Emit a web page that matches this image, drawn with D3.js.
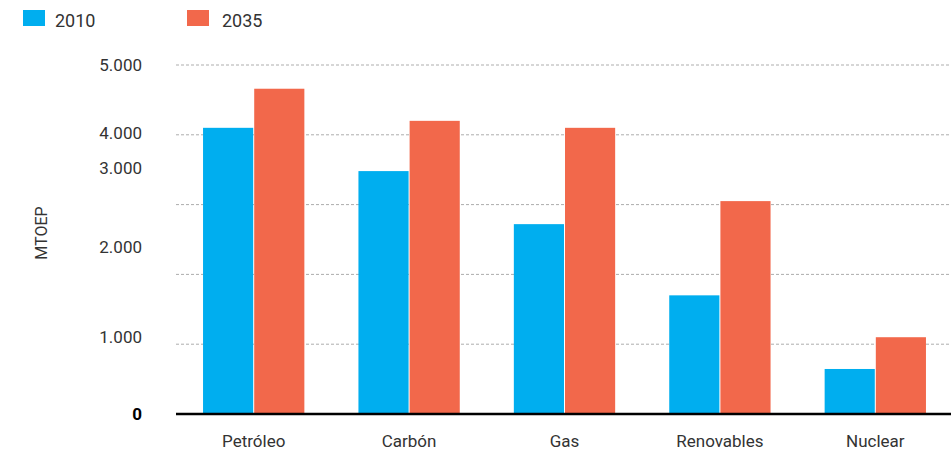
<!DOCTYPE html>
<html>
<head>
<meta charset="utf-8">
<script src="https://cdn.jsdelivr.net/npm/d3@7"></script>
<style>
  html, body { margin: 0; padding: 0; background: #fff; }
  svg { display: block; font-family: Roboto, "Noto Sans", sans-serif; }
</style>
</head>
<body>
<svg id="chart" width="951" height="453"></svg>
<script>
// Energy demand by source, 2010 vs 2035 (MTOEP)
const categories = ["Petróleo", "Carbón", "Gas", "Renovables", "Nuclear"];
const seriesNames = ["2010", "2035"];
const values2010 = [4100, 3480, 2720, 1700, 645];
const values2035 = [4660, 4200, 4100, 3050, 1100];

// Axis: gridline values, their labels, and where each label text sits
const gridValues = [1000, 2000, 3000, 4000, 5000];
const tickLabels = ["0", "1.000", "2.000", "3.000", "4.000", "5.000"];
const tickLabelAt = [0, 1100, 2390, 3520, 4030, 5000];
const yTitle = "MTOEP";

const colors = { "2010": "#00aeef", "2035": "#f2684b" };

const svg = d3.select("#chart");
const plot = { left: 176, right: 951, top: 65, bottom: 414 };

const x0 = d3.scaleBand()
  .domain(categories)
  .range([plot.left, plot.right + 2])
  .paddingInner(0.348)
  .paddingOuter(0.174);

const x1 = d3.scaleBand()
  .domain(seriesNames)
  .range([0, x0.bandwidth()])
  .paddingInner(0.02);

const y = d3.scaleLinear()
  .domain([0, 5000])
  .range([plot.bottom, plot.top]);

// dotted gridlines
svg.append("g").selectAll("line")
  .data(gridValues)
  .join("line")
  .attr("x1", plot.left).attr("x2", plot.right)
  .attr("y1", d => y(d)).attr("y2", d => y(d))
  .attr("stroke", "#adadad")
  .attr("stroke-width", 1)
  .attr("stroke-dasharray", "3,2");

// bars
const rows = categories.map((c, i) => ({
  cat: c,
  vals: [{ s: "2010", v: values2010[i] }, { s: "2035", v: values2035[i] }]
}));

svg.append("g").selectAll("g")
  .data(rows)
  .join("g")
  .attr("transform", d => `translate(${x0(d.cat)},0)`)
  .selectAll("rect")
  .data(d => d.vals)
  .join("rect")
  .attr("x", d => x1(d.s))
  .attr("width", x1.bandwidth())
  .attr("y", d => y(d.v))
  .attr("height", d => y(0) - y(d.v))
  .attr("fill", d => colors[d.s]);

// baseline
svg.append("line")
  .attr("x1", plot.left).attr("x2", plot.right)
  .attr("y1", y(0)).attr("y2", y(0))
  .attr("stroke", "#000")
  .attr("stroke-width", 2.6);

// y tick labels
svg.append("g").selectAll("text")
  .data(tickLabels)
  .join("text")
  .attr("x", 142)
  .attr("y", (d, i) => y(tickLabelAt[i]))
  .attr("dy", "0.36em")
  .attr("text-anchor", "end")
  .attr("font-size", 17)
  .attr("font-weight", (d, i) => i === 0 ? 700 : 400)
  .attr("fill", (d, i) => i === 0 ? "#000" : "#333")
  .text(d => d);

// y axis title
svg.append("text")
  .attr("transform", `translate(47,233) rotate(-90)`)
  .attr("text-anchor", "middle")
  .attr("font-size", 16)
  .attr("fill", "#333")
  .text(yTitle);

// category labels
svg.append("g").selectAll("text")
  .data(categories)
  .join("text")
  .attr("x", d => x0(d) + x0.bandwidth() / 2)
  .attr("y", 447)
  .attr("text-anchor", "middle")
  .attr("font-size", 17)
  .attr("fill", "#333")
  .text(d => d);

// legend
const legendX = d3.scalePoint().domain(seriesNames).range([23, 187]);
const lg = svg.append("g").selectAll("g")
  .data(seriesNames)
  .join("g")
  .attr("transform", d => `translate(${legendX(d)},10)`);
lg.append("rect")
  .attr("width", 22).attr("height", 16)
  .attr("fill", d => colors[d]);
lg.append("text")
  .attr("x", (d, i) => i === 0 ? 32 : 35)
  .attr("y", 16.5)
  .attr("font-size", 18)
  .attr("fill", "#333")
  .text(d => d);
</script>
</body>
</html>
